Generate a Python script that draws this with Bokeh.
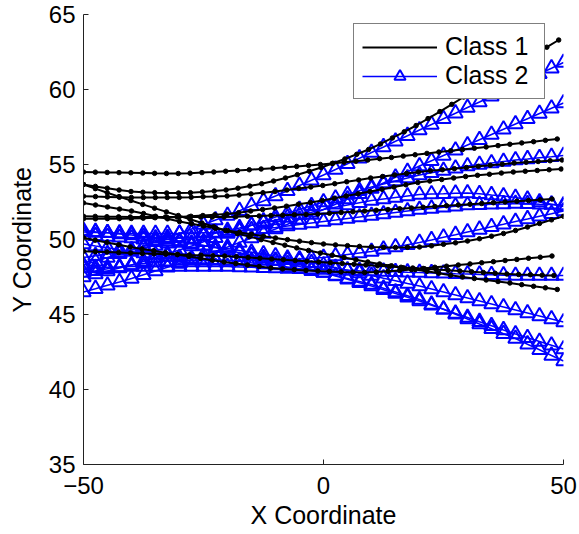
import numpy as np
from bokeh.plotting import figure
from bokeh.models import Range1d, FixedTicker, Legend, LegendItem
from bokeh.embed import file_html
from bokeh.resources import INLINE

# ---------------- data ----------------
x_ticks = [-50, 0, 50]
y_ticks = [35, 40, 45, 50, 55, 60, 65]

# Class 1 (black, dots): y values sampled along each curve, last x of each curve
c1_1 = [54.5, 54.49, 54.47, 54.46, 54.45, 54.43, 54.41, 54.4, 54.4, 54.42, 54.46, 54.5, 54.55, 54.6, 54.65, 54.7, 54.75, 54.81, 54.87, 54.94, 55.0, 55.07, 55.15, 55.22, 55.3, 55.39, 55.47, 55.56, 55.65, 55.74, 55.83, 55.91, 56.0, 56.09, 56.17, 56.26, 56.35, 56.44, 56.52, 56.61, 56.7]
c1_2 = [53.67, 53.54, 53.42, 53.3, 53.2, 53.15, 53.12, 53.1, 53.1, 53.12, 53.17, 53.23, 53.3, 53.42, 53.56, 53.72, 53.9, 54.1, 54.32, 54.55, 54.8, 55.08, 55.37, 55.68, 56.0, 56.37, 56.77, 57.18, 57.6, 58.06, 58.53, 59.01, 59.5, 59.97, 60.45, 60.92, 61.4, 61.87, 62.35, 62.82, 63.3]
c1_3 = [53.67, 53.39, 53.12, 52.86, 52.6, 52.34, 52.09, 51.84, 51.6, 51.35, 51.1, 50.85, 50.6, 50.39, 50.19, 49.99, 49.8, 49.62, 49.44, 49.27, 49.1, 48.95, 48.8, 48.65, 48.5, 48.37, 48.25, 48.12, 48.0, 47.88, 47.75, 47.62, 47.5, 47.4, 47.3, 47.2, 47.1, 46.99, 46.88, 46.78, 46.67]
c1_4 = [52.89, 52.86, 52.84, 52.82, 52.8, 52.8, 52.8, 52.8, 52.8, 52.82, 52.85, 52.87, 52.9, 52.96, 53.04, 53.12, 53.2, 53.3, 53.4, 53.5, 53.6, 53.72, 53.85, 53.97, 54.1, 54.2, 54.3, 54.4, 54.5, 54.58, 54.65, 54.72, 54.8, 54.88, 54.95, 55.02, 55.1, 55.15, 55.2, 55.25, 55.3]
c1_5 = [52.44, 52.3, 52.17, 52.03, 51.9, 51.73, 51.55, 51.38, 51.2, 51.05, 50.9, 50.75, 50.6, 50.47, 50.35, 50.22, 50.1, 49.99, 49.89, 49.79, 49.7, 49.64, 49.59, 49.54, 49.5, 49.48, 49.47, 49.48, 49.5, 49.58, 49.68, 49.78, 49.9, 50.05, 50.22, 50.4, 50.6, 50.83, 51.07, 51.31, 51.55]
c1_6 = [50.11, 49.95, 49.8, 49.65, 49.5, 49.37, 49.25, 49.12, 49.0, 48.87, 48.75, 48.62, 48.5, 48.4, 48.3, 48.2, 48.1, 48.04, 47.99, 47.94, 47.9, 47.87, 47.84, 47.82, 47.8, 47.83, 47.88, 47.94, 48.0, 48.07, 48.15, 48.22, 48.3, 48.37, 48.45, 48.52, 48.6, 48.67, 48.75, 48.82, 48.9]
c1_7 = [51.55, 51.54, 51.52, 51.51, 51.5, 51.5, 51.5, 51.5, 51.5, 51.5, 51.5, 51.5, 51.5, 51.52, 51.55, 51.57, 51.6, 51.62, 51.65, 51.67, 51.7, 51.75, 51.8, 51.85, 51.9, 51.95, 52.0, 52.05, 52.1, 52.15, 52.2, 52.25, 52.3, 52.35, 52.4, 52.45, 52.5, 52.55, 52.6, 52.65, 52.7]
c1_8 = [51.38, 51.38, 51.39, 51.39, 51.4, 51.42, 51.45, 51.47, 51.5, 51.55, 51.6, 51.65, 51.7, 51.79, 51.9, 52.0, 52.1, 52.22, 52.35, 52.47, 52.6, 52.75, 52.9, 53.05, 53.2, 53.35, 53.5, 53.65, 53.8, 53.9, 54.0, 54.1, 54.2, 54.28, 54.35, 54.43, 54.5, 54.55, 54.6, 54.65, 54.7]
c1_9 = [49.22, 49.19, 49.16, 49.13, 49.1, 49.07, 49.05, 49.02, 49.0, 48.97, 48.95, 48.92, 48.9, 48.85, 48.8, 48.75, 48.7, 48.65, 48.6, 48.55, 48.5, 48.45, 48.4, 48.35, 48.3, 48.25, 48.2, 48.15, 48.1, 48.05, 48.0, 47.95, 47.9, 47.85, 47.8, 47.75, 47.7, 47.67, 47.65, 47.62, 47.6]
c1_x_end = [48.7, 49.0, 48.7, 49.7, 50.0, 47.6, 47.6, 49.5, 48.0]

# Class 2 (blue, triangles), x from -50 to 50
c2_1 = [48.3, 48.55, 48.8, 49.05, 49.3, 49.57, 49.85, 50.12, 50.4, 50.7, 51.0, 51.3, 51.6, 51.92, 52.25, 52.57, 52.9, 53.25, 53.6, 53.95, 54.3, 54.67, 55.05, 55.42, 55.8, 56.17, 56.55, 56.92, 57.3, 57.67, 58.05, 58.42, 58.8, 59.17, 59.55, 59.92, 60.3, 60.67, 61.05, 61.42, 61.8]
c2_2 = [46.5, 46.72, 46.95, 47.17, 47.4, 47.65, 47.9, 48.15, 48.4, 48.67, 48.95, 49.22, 49.5, 49.8, 50.1, 50.4, 50.7, 51.02, 51.35, 51.67, 52.0, 52.35, 52.7, 53.05, 53.4, 53.77, 54.15, 54.52, 54.9, 55.25, 55.6, 55.95, 56.3, 56.65, 57.0, 57.35, 57.7, 58.05, 58.4, 58.75, 59.1]
c2_3 = [47.5, 47.7, 47.9, 48.1, 48.3, 48.55, 48.8, 49.05, 49.3, 49.57, 49.85, 50.12, 50.4, 50.67, 50.95, 51.22, 51.5, 51.75, 52.0, 52.25, 52.5, 52.75, 53.0, 53.25, 53.5, 53.7, 53.9, 54.1, 54.3, 54.45, 54.6, 54.75, 54.9, 55.0, 55.1, 55.2, 55.3, 55.37, 55.45, 55.52, 55.6]
c2_4 = [50.5, 50.47, 50.45, 50.42, 50.4, 50.4, 50.4, 50.4, 50.4, 50.42, 50.45, 50.47, 50.5, 50.57, 50.65, 50.72, 50.8, 50.9, 51.0, 51.1, 51.2, 51.3, 51.4, 51.5, 51.6, 51.7, 51.8, 51.9, 52.0, 52.07, 52.15, 52.22, 52.3, 52.32, 52.35, 52.37, 52.4, 52.38, 52.35, 52.33, 52.3]
c2_5 = [48.8, 48.92, 49.05, 49.17, 49.3, 49.45, 49.6, 49.75, 49.9, 50.07, 50.25, 50.42, 50.6, 50.77, 50.95, 51.12, 51.3, 51.47, 51.65, 51.82, 52.0, 52.15, 52.3, 52.45, 52.6, 52.7, 52.8, 52.9, 53.0, 53.03, 53.05, 53.08, 53.1, 53.05, 52.97, 52.9, 52.8, 52.67, 52.5, 52.35, 52.2]
c2_6 = [49.7, 49.57, 49.45, 49.32, 49.2, 49.1, 49.0, 48.9, 48.8, 48.75, 48.7, 48.65, 48.6, 48.6, 48.6, 48.6, 48.6, 48.65, 48.7, 48.75, 48.8, 48.9, 49.0, 49.1, 49.2, 49.35, 49.5, 49.65, 49.8, 49.97, 50.15, 50.32, 50.5, 50.67, 50.85, 51.02, 51.2, 51.37, 51.55, 51.72, 51.9]
c2_7 = [48.1, 48.12, 48.15, 48.17, 48.2, 48.2, 48.2, 48.2, 48.2, 48.2, 48.2, 48.2, 48.2, 48.17, 48.15, 48.12, 48.1, 48.07, 48.05, 48.02, 48.0, 47.97, 47.95, 47.92, 47.9, 47.87, 47.85, 47.82, 47.8, 47.77, 47.75, 47.72, 47.7, 47.67, 47.65, 47.62, 47.6, 47.6, 47.6, 47.6, 47.6]
c2_8 = [50.3, 50.25, 50.2, 50.15, 50.1, 50.02, 49.95, 49.87, 49.8, 49.7, 49.6, 49.5, 49.4, 49.27, 49.15, 49.02, 48.9, 48.75, 48.6, 48.45, 48.3, 48.12, 47.95, 47.77, 47.6, 47.42, 47.25, 47.07, 46.9, 46.7, 46.5, 46.3, 46.1, 45.9, 45.7, 45.5, 45.3, 45.1, 44.9, 44.7, 44.5]
c2_9 = [50.6, 50.52, 50.45, 50.37, 50.3, 50.2, 50.1, 50.0, 49.9, 49.75, 49.6, 49.45, 49.3, 49.12, 48.95, 48.77, 48.6, 48.4, 48.2, 48.0, 47.8, 47.57, 47.35, 47.12, 46.9, 46.65, 46.4, 46.15, 45.9, 45.62, 45.35, 45.07, 44.8, 44.52, 44.25, 43.97, 43.7, 43.45, 43.2, 42.95, 42.7]
c2_10 = [47.8, 47.92, 48.05, 48.17, 48.3, 48.4, 48.5, 48.55, 48.6, 48.6, 48.6, 48.6, 48.6, 48.55, 48.45, 48.37, 48.3, 48.17, 48.05, 47.92, 47.8, 47.6, 47.4, 47.2, 47.0, 46.75, 46.5, 46.25, 46.0, 45.67, 45.35, 45.02, 44.7, 44.37, 44.05, 43.72, 43.4, 43.02, 42.65, 42.27, 41.9]
c2_x_start, c2_x_end = -50, 50

class1 = [c1_1, c1_2, c1_3, c1_4, c1_5, c1_6, c1_7, c1_8, c1_9]
class2 = [c2_1, c2_2, c2_3, c2_4, c2_5, c2_6, c2_7, c2_8, c2_9, c2_10]

FONT = "Liberation Sans"

p = figure(width=579, height=534, output_backend="svg", toolbar_location=None,
           x_range=Range1d(-50, 50), y_range=Range1d(35, 65),
           min_border_left=83, min_border_right=16, min_border_top=14, min_border_bottom=70)
p.xgrid.visible = False
p.ygrid.visible = False
p.outline_line_color = None
p.background_fill_color = "white"
p.border_fill_color = "white"

blue_r = None
for ys in class2:
    xs = np.linspace(c2_x_start, c2_x_end, len(ys))
    rl = p.line(xs, ys, line_color="#0000ff", line_width=1.5)
    rs = p.scatter(xs, ys, marker="triangle", size=14.5, line_color="#0000ff",
                   fill_color=None, line_width=2)
    if blue_r is None:
        blue_r = [rl, rs]

black_line = None
for ys, xe in zip(class1, c1_x_end):
    xs = np.linspace(-50, xe, len(ys))
    rl = p.line(xs, ys, line_color="black", line_width=2)
    p.scatter(xs, ys, marker="circle", size=4.5, line_color="black", fill_color="black")
    if black_line is None:
        black_line = rl

for ax in (p.xaxis[0], p.yaxis[0]):
    ax.major_tick_in = 5
    ax.major_tick_out = 0
    ax.minor_tick_line_color = None
    ax.axis_line_color = "#222222"
    ax.major_tick_line_color = "#222222"
    ax.major_label_text_font = FONT
    ax.major_label_text_font_size = "24px"
    ax.major_label_text_color = "black"
    ax.axis_label_text_font = FONT
    ax.axis_label_text_font_size = "25px"
    ax.axis_label_text_font_style = "normal"
    ax.axis_label_text_color = "black"

p.xaxis.ticker = FixedTicker(ticks=x_ticks)
p.yaxis.ticker = FixedTicker(ticks=y_ticks)
p.xaxis.major_label_overrides = {t: (str(t) if t >= 0 else "\u2212" + str(-t)) for t in x_ticks}
p.xaxis.axis_label = "X Coordinate"
p.yaxis.axis_label = "Y Coordinate"
p.xaxis.major_label_standoff = 12
p.xaxis.axis_label_standoff = 4
p.yaxis.major_label_standoff = 8
p.yaxis.axis_label_standoff = 10

legend = Legend(items=[LegendItem(label="Class 1", renderers=[black_line]),
                       LegendItem(label="Class 2", renderers=blue_r)],
                location=(270, 365))
legend.label_text_font = FONT
legend.label_text_font_size = "25px"
legend.label_text_color = "black"
legend.glyph_width = 75
legend.glyph_height = 28
legend.label_height = 28
legend.label_width = 91
legend.label_standoff = 8
legend.padding = 8
legend.spacing = 0
legend.border_line_color = "black"
legend.border_line_width = 1
legend.background_fill_alpha = 1
legend.margin = 0
p.add_layout(legend)

open("out.html", "w").write(file_html(p, INLINE))
